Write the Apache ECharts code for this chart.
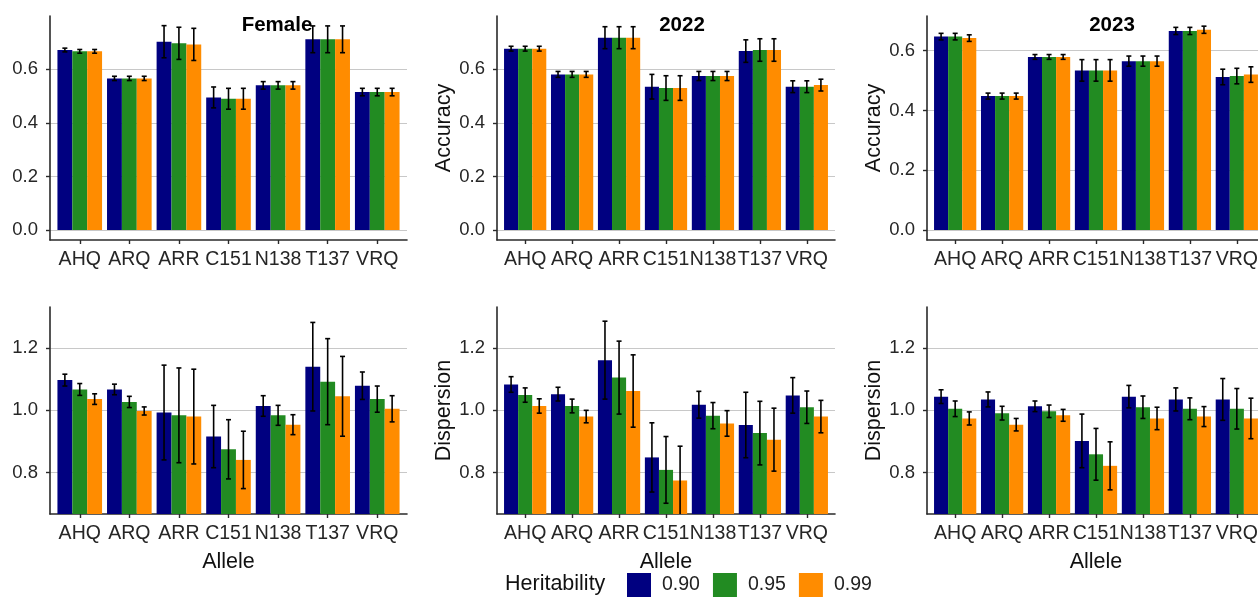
<!DOCTYPE html>
<html><head><meta charset="utf-8">
<script src="https://cdn.jsdelivr.net/npm/echarts@6/dist/echarts.min.js"></script>
<style>html,body{margin:0;padding:0;background:#fff}#c{width:1258px;height:598px}</style>
</head><body><div id="c"></div><script>
// ---------------- data ----------------
const alleles = ['AHQ','ARQ','ARR','C151','N138','T137','VRQ'];
const heritability = ['0.90','0.95','0.99'];
const panelTitles = ['Female','2022','2023'];
const accTicks = [0.0, 0.2, 0.4, 0.6];
const dispTicks = [0.8, 1.0, 1.2];

// Accuracy (rows: heritability 0.90, 0.95, 0.99; columns: alleles)
const accFemaleMean = [
  [0.672,0.566,0.703,0.495,0.540,0.712,0.515],
  [0.667,0.566,0.697,0.490,0.540,0.712,0.515],
  [0.667,0.566,0.693,0.490,0.540,0.712,0.515]];
const accFemaleErr = [
  [0.007,0.008,0.060,0.039,0.014,0.050,0.014],
  [0.007,0.008,0.060,0.039,0.014,0.050,0.014],
  [0.007,0.008,0.060,0.039,0.014,0.050,0.014]];
const acc2022Mean = [
  [0.677,0.581,0.718,0.535,0.575,0.668,0.535],
  [0.677,0.581,0.718,0.530,0.575,0.672,0.535],
  [0.677,0.581,0.718,0.530,0.575,0.672,0.541]];
const acc2022Err = [
  [0.009,0.011,0.041,0.046,0.017,0.042,0.022],
  [0.009,0.011,0.041,0.046,0.017,0.042,0.022],
  [0.009,0.011,0.041,0.046,0.017,0.042,0.022]];
const acc2023Mean = [
  [0.647,0.448,0.579,0.534,0.565,0.666,0.512],
  [0.647,0.448,0.579,0.534,0.565,0.666,0.515],
  [0.642,0.448,0.579,0.534,0.565,0.670,0.520]];
const acc2023Err = [
  [0.011,0.010,0.008,0.036,0.017,0.012,0.026],
  [0.011,0.010,0.008,0.036,0.017,0.012,0.026],
  [0.011,0.010,0.008,0.036,0.017,0.012,0.026]];

// Dispersion
const dispFemaleMean = [
  [1.097,1.067,0.993,0.916,1.014,1.140,1.079],
  [1.067,1.027,0.984,0.875,0.984,1.092,1.036],
  [1.036,0.998,0.980,0.841,0.954,1.045,1.005]];
const dispFemaleErr = [
  [0.019,0.017,0.152,0.100,0.033,0.142,0.044],
  [0.019,0.018,0.152,0.095,0.032,0.138,0.042],
  [0.017,0.013,0.152,0.092,0.032,0.128,0.042]];
const disp2022Mean = [
  [1.083,1.052,1.161,0.849,1.018,0.953,1.048],
  [1.049,1.014,1.105,0.809,0.983,0.927,1.010],
  [1.014,0.980,1.062,0.775,0.958,0.906,0.980]];
const disp2022Err = [
  [0.025,0.022,0.125,0.111,0.043,0.105,0.057],
  [0.023,0.022,0.117,0.107,0.042,0.102,0.052],
  [0.023,0.020,0.116,0.110,0.041,0.101,0.052]];
const disp2023Mean = [
  [1.044,1.035,1.013,0.902,1.044,1.035,1.035],
  [1.005,0.991,0.997,0.859,1.010,1.005,1.005],
  [0.974,0.954,0.984,0.822,0.974,0.980,0.974]];
const disp2023Err = [
  [0.022,0.024,0.017,0.086,0.036,0.037,0.067],
  [0.025,0.022,0.020,0.083,0.036,0.035,0.065],
  [0.021,0.020,0.019,0.077,0.036,0.032,0.065]];

// ---------------- layout / style ----------------
const FONT = '"Liberation Sans", Arial, sans-serif';
const barColors = ['#000080', '#228B22', '#FF8C00'];
const panels = [
  {mean: accFemaleMean, err: accFemaleErr, left: 50, width: 357, top: 16, height: 224, min: -0.0373, max: 0.799, ticks: accTicks, yName: ''},
  {mean: acc2022Mean, err: acc2022Err, left: 497, width: 338, top: 16, height: 224, min: -0.0373, max: 0.799, ticks: accTicks, yName: 'Accuracy'},
  {mean: acc2023Mean, err: acc2023Err, left: 927, width: 338, top: 16, height: 224, min: -0.0335, max: 0.716, ticks: accTicks, yName: 'Accuracy'},
  {mean: dispFemaleMean, err: dispFemaleErr, left: 50, width: 357, top: 307, height: 207, min: 0.6675, max: 1.3315, ticks: dispTicks, yName: ''},
  {mean: disp2022Mean, err: disp2022Err, left: 497, width: 338, top: 307, height: 207, min: 0.6675, max: 1.3315, ticks: dispTicks, yName: 'Dispersion'},
  {mean: disp2023Mean, err: disp2023Err, left: 927, width: 338, top: 307, height: 207, min: 0.6675, max: 1.3315, ticks: dispTicks, yName: 'Dispersion'}
];
const catIdx = alleles.map((a, i) => i);
const axisColor = '#2a2a2a';
const textColor = '#262626';

function makeRender(k) {
  return function (params, api) {
    const i = api.value(0), v = api.value(1), e = api.value(2);
    const cs = params.coordSys;
    const yTop = cs.y, yBot = cs.y + cs.height;
    const clampY = y => Math.max(yTop, Math.min(yBot, y));
    const xc = i + (k - 1) * 0.3;
    const p0 = api.coord([xc - 0.15, v]);
    const p1 = api.coord([xc + 0.15, 0]);
    const yBase = clampY(p1[1]);
    const ph = api.coord([xc, v + e]);
    const pl = api.coord([xc, v - e]);
    const cx = ph[0];
    const hi = clampY(ph[1]), lo = clampY(pl[1]);
    const lw = 1.6;
    const children = [{
      type: 'rect',
      shape: {x: p0[0], y: p0[1], width: p1[0] - p0[0], height: yBase - p0[1]},
      style: {fill: api.visual('color')}
    }, {
      type: 'line', z2: 10,
      shape: {x1: cx, y1: hi, x2: cx, y2: lo},
      style: {stroke: '#000', lineWidth: lw}
    }];
    if (ph[1] >= yTop) children.push({type: 'line', z2: 10, shape: {x1: cx - 2.5, y1: hi, x2: cx + 2.5, y2: hi}, style: {stroke: '#000', lineWidth: lw}});
    if (pl[1] <= yBot) children.push({type: 'line', z2: 10, shape: {x1: cx - 2.5, y1: lo, x2: cx + 2.5, y2: lo}, style: {stroke: '#000', lineWidth: lw}});
    return {type: 'group', children};
  };
}

const grid = [], xAxis = [], yAxis = [], series = [];
panels.forEach((p, pi) => {
  const bottomRow = pi >= 3;
  grid.push({left: p.left, top: p.top, width: p.width, height: p.height, containLabel: false, outerBoundsMode: 'none'});
  xAxis.push({
    gridIndex: pi, type: 'value', min: -0.6, max: 6.6,
    axisLine: {show: true, onZero: false, lineStyle: {color: axisColor, width: 1.6}},
    axisTick: {show: true, customValues: catIdx, length: 4, lineStyle: {color: axisColor, width: 1.4}},
    axisLabel: {customValues: catIdx, formatter: v => alleles[Math.round(v)], fontSize: 19.5, color: textColor, margin: 10, fontFamily: FONT},
    splitLine: {show: false},
    name: bottomRow ? 'Allele' : '', nameLocation: 'middle', nameGap: 37,
    nameTextStyle: {fontSize: 21.5, color: '#111', fontFamily: FONT}
  });
  yAxis.push({
    gridIndex: pi, type: 'value', min: p.min, max: p.max,
    axisLine: {show: true, onZero: false, lineStyle: {color: axisColor, width: 1.6}},
    axisTick: {show: true, customValues: p.ticks, length: 4, lineStyle: {color: axisColor, width: 1.4}},
    axisLabel: {customValues: p.ticks, formatter: v => v.toFixed(1), fontSize: 18.5, color: textColor, margin: 12, fontFamily: FONT},
    splitLine: {show: true, lineStyle: {color: '#c8c8c8', width: 1}},
    name: p.yName, nameLocation: 'middle', nameGap: 42,
    nameTextStyle: {fontSize: 21.5, color: '#111', fontFamily: FONT}
  });
  heritability.forEach((h, k) => {
    series.push({
      type: 'custom', name: h, xAxisIndex: pi, yAxisIndex: pi,
      itemStyle: {color: barColors[k]},
      renderItem: makeRender(k),
      encode: {x: 0, y: 1},
      data: alleles.map((a, i) => [i, p.mean[k][i], p.err[k][i]])
    });
  });
});

const titleXs = [277, 682, 1112];
const graphic = panelTitles.map((t, i) => ({
  type: 'text', x: titleXs[i], y: 25, z: 100,
  style: {text: t, fontSize: 20.5, fontWeight: 'bold', fontFamily: FONT, fill: '#000', align: 'center', verticalAlign: 'middle'}
}));
graphic.push({
  type: 'text', left: 505, top: 573,
  style: {text: 'Heritability', fontSize: 21.5, fontFamily: FONT, fill: '#111'}
});

const chart = echarts.init(document.getElementById('c'), null, {renderer: 'canvas'});
chart.setOption({
  animation: false,
  backgroundColor: '#fff',
  grid, xAxis, yAxis, series, graphic,
  legend: {
    left: 627, top: 573, padding: 0, itemWidth: 24, itemHeight: 24, itemGap: 13, icon: 'rect',
    data: heritability,
    textStyle: {fontSize: 19.5, color: '#222', fontFamily: FONT, padding: [0, 0, 0, 6]}
  }
});
</script></body></html>
